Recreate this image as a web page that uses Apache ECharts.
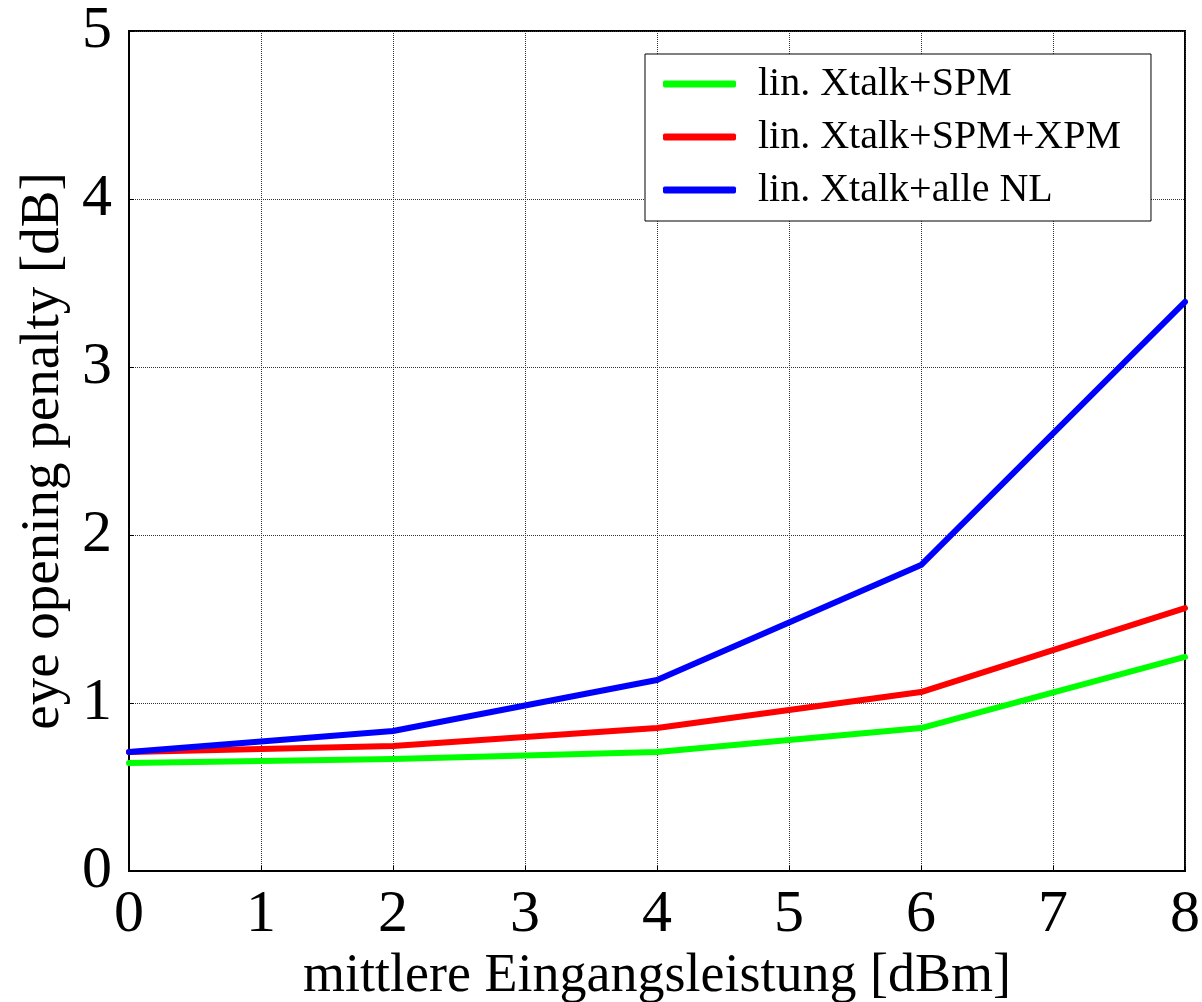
<!DOCTYPE html>
<html>
<head>
<meta charset="utf-8">
<script src="https://cdn.jsdelivr.net/npm/echarts@6/dist/echarts.min.js"></script>
<style>
html,body{margin:0;padding:0;background:#fff;}
#chart{width:1202px;height:1002px;}
</style>
</head>
<body>
<div id="chart"></div>
<script>
const xValues = [0, 2, 4, 6, 8];
const spmValues = [0.643, 0.667, 0.708, 0.851, 1.274];
const spmXpmValues = [0.708, 0.744, 0.851, 1.065, 1.565];
const alleNlValues = [0.708, 0.833, 1.137, 1.821, 3.387];
const seriesNames = ['lin. Xtalk+SPM', 'lin. Xtalk+SPM+XPM', 'lin. Xtalk+alle NL'];
const xTitle = 'mittlere Eingangsleistung [dBm]';
const yTitle = 'eye opening penalty [dB]';

const pairs = (ys) => xValues.map((x, i) => [x, ys[i]]);
const font = 'Liberation Serif';

const chart = echarts.init(document.getElementById('chart'), null, {renderer: 'canvas'});
chart.setOption({
  backgroundColor: '#ffffff',
  animation: false,
  grid: {left: 129, right: 17, top: 31, bottom: 131, outerBoundsMode: 'none', containLabel: false, show: true, borderColor: '#000', borderWidth: 2, backgroundColor: 'transparent'},
  xAxis: {
    type: 'value', min: 0, max: 8, interval: 1,
    name: xTitle, nameLocation: 'middle', nameGap: 76,
    nameTextStyle: {fontFamily: font, fontSize: 54, color: '#000'},
    axisLine: {show: true, lineStyle: {color: '#000', width: 2}},
    axisTick: {show: true, inside: true, length: 5, lineStyle: {color: '#000'}},
    axisLabel: {fontFamily: font, fontSize: 60, color: '#000', margin: 14},
    splitLine: {show: true, lineStyle: {type: 'dotted', color: '#333', width: 1}}
  },
  yAxis: {
    type: 'value', min: 0, max: 5, interval: 1,
    name: yTitle, nameLocation: 'middle', nameGap: 56,
    nameTextStyle: {fontFamily: font, fontSize: 55, color: '#000'},
    axisLine: {show: true, lineStyle: {color: '#000', width: 2}},
    axisTick: {show: true, inside: true, length: 5, lineStyle: {color: '#000'}},
    axisLabel: {fontFamily: font, fontSize: 60, color: '#000', margin: 17},
    splitLine: {show: true, lineStyle: {type: 'dotted', color: '#333', width: 1}}
  },
  legend: {
    orient: 'vertical', left: 645, top: 54,
    padding: [10, 30, 11, 18],
    itemGap: 13,
    itemWidth: 73, itemHeight: 7,
    icon: 'roundRect',
    borderColor: '#000', borderWidth: 1,
    backgroundColor: '#fff',
    textStyle: {fontFamily: font, fontSize: 40, color: '#000', lineHeight: 40, padding: [0, 0, 0, 17]},
    data: seriesNames
  },
  series: [
    {name: seriesNames[0], type: 'line', data: pairs(spmValues), symbol: 'none', color: '#00ff00', lineStyle: {width: 6, color: '#00ff00', cap: 'round', join: 'round'}},
    {name: seriesNames[1], type: 'line', data: pairs(spmXpmValues), symbol: 'none', color: '#ff0000', lineStyle: {width: 6, color: '#ff0000', cap: 'round', join: 'round'}},
    {name: seriesNames[2], type: 'line', data: pairs(alleNlValues), symbol: 'none', color: '#0000ff', lineStyle: {width: 6, color: '#0000ff', cap: 'round', join: 'round'}}
  ]
});
</script>
</body>
</html>
